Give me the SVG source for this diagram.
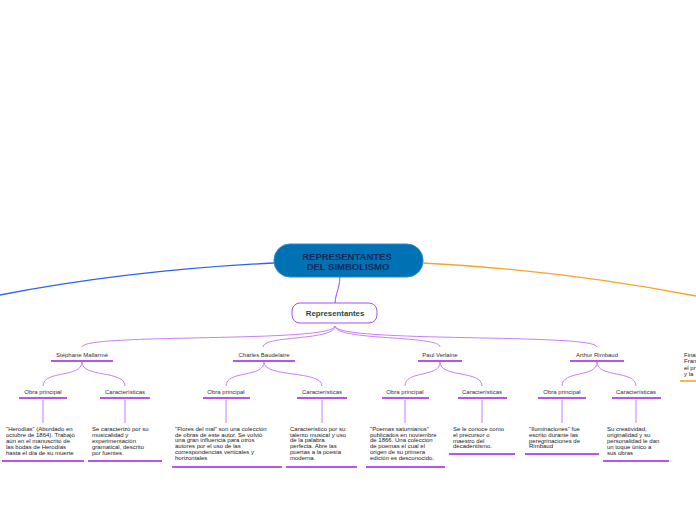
<svg xmlns="http://www.w3.org/2000/svg" width="696" height="520" viewBox="0 0 696 520">
<style>
.lbl{font-family:"Liberation Sans",Arial,sans-serif;font-size:6px;fill:#333;text-anchor:middle}
.body{font-family:"Liberation Sans",Arial,sans-serif;font-size:6px;fill:#222}
.ul{stroke:#9b1ee8;stroke-width:1.6;fill:none}
.con{stroke:#c880f8;stroke-width:1;fill:none}
.vert{stroke:#dca8fb;stroke-width:1.5;fill:none}
</style>
<rect width="696" height="520" fill="#ffffff"/>
<g id="connectors">
<path d="M274,263 Q130,270 0,295" stroke="#2e63f0" stroke-width="1.3" fill="none"/>
<path d="M423,263 Q560,270 696,296" stroke="#f7a42b" stroke-width="1.3" fill="none"/>
<path d="M340,277 C339,290 336,292 335,303" stroke="#a244f2" stroke-width="1" fill="none"/>
<path class="con" d="M335,326 C335,343 82,333 82,347"/>
<path class="con" d="M335,326 C335,341 263,335 263,347"/>
<path class="con" d="M335,326 C335,341 440,335 440,347"/>
<path class="con" d="M335,326 C335,343 597,333 597,347"/>
<path class="con" d="M82,362 C82,378 43,370 43,386"/>
<path class="con" d="M82,362 C82,378 125,370 125,386"/>
<path class="con" d="M264,362 C264,378 226,370 226,386"/>
<path class="con" d="M264,362 C264,378 322,370 322,386"/>
<path class="con" d="M440,362 C440,378 405,370 405,386"/>
<path class="con" d="M440,362 C440,378 482,370 482,386"/>
<path class="con" d="M597,362 C597,378 562,370 562,386"/>
<path class="con" d="M597,362 C597,378 636,370 636,386"/>
<path class="vert" d="M43,400V423M125,400V423M226,400V423M322,400V423M405,400V423M482,400V423M562,400V423M636,400V423"/>
</g>
<g id="main">
<rect x="274" y="244" width="149" height="33" rx="16" fill="#0071b2" stroke="#2a8ad0" stroke-width="1"/>
<text x="347" y="259.5" font-family="Liberation Sans,Arial,sans-serif" font-size="9.5" font-weight="bold" fill="#152a5c" text-anchor="middle">REPRESENTANTES</text>
<text x="348" y="270" font-family="Liberation Sans,Arial,sans-serif" font-size="9.5" font-weight="bold" fill="#152a5c" text-anchor="middle">DEL SIMBOLISMO</text>
</g>
<g id="representantes">
<rect x="292" y="303" width="85" height="20" rx="8" fill="#ffffff" stroke="#a94cf5" stroke-width="1"/>
<text x="335" y="315.8" font-family="Liberation Sans,Arial,sans-serif" font-size="7.8" font-weight="bold" fill="#1b4d3e" text-anchor="middle">Representantes</text>
</g>
<g id="mallarme">
<text class="lbl" x="82" y="357">Stéphane Mallarmé</text>
<path class="ul" d="M51,361H113"/>
</g>
<g id="mallarme-obra">
<text class="lbl" x="43" y="394">Obra principal</text>
<path class="ul" d="M19,398H67"/>
</g>
<g id="mallarme-car">
<text class="lbl" x="125" y="394">Características</text>
<path class="ul" d="M100,398H150"/>
</g>
<g id="mallarme-obra-txt">
<text class="body" x="6" y="431"><tspan x="6">"Herodías" (Abordado en</tspan><tspan x="6" dy="5.9">octubre de 1864). Trabajó</tspan><tspan x="6" dy="5.9">aún en el manuscrito de</tspan><tspan x="6" dy="5.9">las bodas de Herodías</tspan><tspan x="6" dy="5.9">hasta el día de su muerte</tspan></text>
<path class="ul" d="M2,461H84"/>
</g>
<g id="mallarme-car-txt">
<text class="body" x="92" y="431"><tspan x="92">Se caracterizó por su</tspan><tspan x="92" dy="5.9">musicalidad y</tspan><tspan x="92" dy="5.9">experimentación</tspan><tspan x="92" dy="5.9">gramatical, descrito</tspan><tspan x="92" dy="5.9">por fuentes.</tspan></text>
<path class="ul" d="M88,461H162"/>
</g>
<g id="baudelaire">
<text class="lbl" x="264" y="357">Charles Baudelaire</text>
<path class="ul" d="M233,361H295"/>
</g>
<g id="baudelaire-obra">
<text class="lbl" x="226" y="394">Obra principal</text>
<path class="ul" d="M203,398H250"/>
</g>
<g id="baudelaire-car">
<text class="lbl" x="322" y="394">Características</text>
<path class="ul" d="M297,398H347"/>
</g>
<g id="baudelaire-obra-txt">
<text class="body" x="175" y="431"><tspan x="175">"Flores del mal" son una colección</tspan><tspan x="175" dy="5.7">de obras de este autor. Se volvió</tspan><tspan x="175" dy="5.7">una gran influencia para otros</tspan><tspan x="175" dy="5.7">autores por el uso de las</tspan><tspan x="175" dy="5.7">correspondencias verticales y</tspan><tspan x="175" dy="5.7">horizontales</tspan></text>
<path class="ul" d="M172,467H282"/>
</g>
<g id="baudelaire-car-txt">
<text class="body" x="290" y="431"><tspan x="290">Característico por su</tspan><tspan x="290" dy="5.7">talento musical y uso</tspan><tspan x="290" dy="5.7">de la palabra</tspan><tspan x="290" dy="5.7">perfecta. Abre las</tspan><tspan x="290" dy="5.7">puertas a la poesía</tspan><tspan x="290" dy="5.7">moderna.</tspan></text>
<path class="ul" d="M286,467H357"/>
</g>
<g id="verlaine">
<text class="lbl" x="440" y="357">Paul Verlaine</text>
<path class="ul" d="M418,361H462"/>
</g>
<g id="verlaine-obra">
<text class="lbl" x="405" y="394">Obra principal</text>
<path class="ul" d="M382,398H429"/>
</g>
<g id="verlaine-car">
<text class="lbl" x="482" y="394">Características</text>
<path class="ul" d="M458,398H507"/>
</g>
<g id="verlaine-obra-txt">
<text class="body" x="370" y="431"><tspan x="370">"Poemas saturnianos"</tspan><tspan x="370" dy="5.7">publicados en noviembre</tspan><tspan x="370" dy="5.7">de 1866. Una colección</tspan><tspan x="370" dy="5.7">de poemas el cual el</tspan><tspan x="370" dy="5.7">origen de su primera</tspan><tspan x="370" dy="5.7">edición es desconocido.</tspan></text>
<path class="ul" d="M366,467H445"/>
</g>
<g id="verlaine-car-txt">
<text class="body" x="453" y="431"><tspan x="453">Se le conoce como</tspan><tspan x="453" dy="5.8">el precursor o</tspan><tspan x="453" dy="5.8">maestro del</tspan><tspan x="453" dy="5.8">decadentismo.</tspan></text>
<path class="ul" d="M449,454H515"/>
</g>
<g id="rimbaud">
<text class="lbl" x="597" y="357">Arthur Rimbaud</text>
<path class="ul" d="M570,361H624"/>
</g>
<g id="rimbaud-obra">
<text class="lbl" x="562" y="394">Obra principal</text>
<path class="ul" d="M538,398H586"/>
</g>
<g id="rimbaud-car">
<text class="lbl" x="636" y="394">Características</text>
<path class="ul" d="M612,398H661"/>
</g>
<g id="rimbaud-obra-txt">
<text class="body" x="529" y="431"><tspan x="529">"Iluminaciones" fue</tspan><tspan x="529" dy="5.8">escrito durante las</tspan><tspan x="529" dy="5.8">peregrinaciones de</tspan><tspan x="529" dy="5.8">Rimbaud</tspan></text>
<path class="ul" d="M525,454H599"/>
</g>
<g id="rimbaud-car-txt">
<text class="body" x="607" y="431"><tspan x="607">Su creatividad,</tspan><tspan x="607" dy="5.9">originalidad y su</tspan><tspan x="607" dy="5.9">personalidad le dan</tspan><tspan x="607" dy="5.9">un toque único a</tspan><tspan x="607" dy="5.9">sus obras</tspan></text>
<path class="ul" d="M603,461H669"/>
</g>
<g id="right-node">
<text class="body" x="684" y="357"><tspan x="684">Final</tspan><tspan x="684" dy="6.3">Fran</tspan><tspan x="684" dy="6.3">el pr</tspan><tspan x="684" dy="6.3">y la</tspan></text>
<path d="M680,381H696" stroke="#f7a42b" stroke-width="1.6" fill="none"/>
</g>
</svg>
